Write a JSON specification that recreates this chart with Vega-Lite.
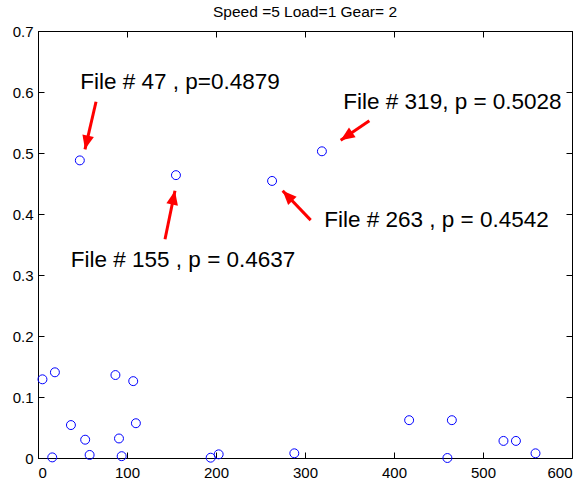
{
  "$schema": "https://vega.github.io/schema/vega-lite/v6.json",
  "width": 534,
  "height": 427,
  "autosize": {"type": "none"},
  "padding": {"left": 38, "top": 31, "right": 14, "bottom": 26},
  "background": "white",
  "config": {
    "view": {"stroke": "black", "strokeWidth": 1},
    "font": "Liberation Sans",
    "axis": {
      "domainColor": "black",
      "tickColor": "black",
      "labelColor": "black",
      "labelFont": "Liberation Sans",
      "labelFontSize": 15,
      "tickSize": -6,
      "grid": false,
      "title": null
    }
  },
  "title": {
    "text": "Speed =5 Load=1 Gear= 2",
    "font": "Liberation Sans",
    "fontSize": 15.5,
    "fontWeight": "normal",
    "color": "black",
    "offset": 4
  },
  "datasets": {
    "pts": [
      {"file": 5, "p": 0.129},
      {"file": 19, "p": 0.1405},
      {"file": 16, "p": 0.001},
      {"file": 37, "p": 0.054},
      {"file": 53, "p": 0.030},
      {"file": 58, "p": 0.005},
      {"file": 87, "p": 0.136},
      {"file": 107, "p": 0.126},
      {"file": 91, "p": 0.032},
      {"file": 94, "p": 0.003},
      {"file": 110, "p": 0.057},
      {"file": 194, "p": 0.0005},
      {"file": 203, "p": 0.006},
      {"file": 288, "p": 0.0077},
      {"file": 417, "p": 0.062},
      {"file": 465, "p": 0.062},
      {"file": 460, "p": 0.0},
      {"file": 523, "p": 0.028},
      {"file": 537, "p": 0.028},
      {"file": 559, "p": 0.0077},
      {"file": 47, "p": 0.4879},
      {"file": 155, "p": 0.4637},
      {"file": 263, "p": 0.4542},
      {"file": 319, "p": 0.5028}
    ],
    "ann": [
      {"label": "File # 47 , p=0.4879", "tx": 159.6, "ty": 0.6044, "ax": 65.2, "ay": 0.584, "bx": 52.8, "by": 0.506, "heading": 193},
      {"label": "File # 155 , p = 0.4637", "tx": 163, "ty": 0.3136, "ax": 142.7, "ay": 0.3585, "bx": 153.9, "by": 0.438, "heading": 11.6},
      {"label": "File # 263 , p = 0.4542", "tx": 447.8, "ty": 0.378, "ax": 306.4, "ay": 0.390, "bx": 274.9, "by": 0.438, "heading": 316},
      {"label": "File # 319, p = 0.5028", "tx": 465.7, "ty": 0.572, "ax": 372.3, "ay": 0.553, "bx": 340.1, "by": 0.521, "heading": 236}
    ]
  },
  "resolve": {"axis": {"x": "independent", "y": "independent"}},
  "layer": [
    {
      "data": {"name": "pts"},
      "mark": {"type": "point", "shape": "circle", "filled": false, "color": "#0000ff", "size": 80, "strokeWidth": 1, "opacity": 1},
      "encoding": {
        "x": {"field": "file", "type": "quantitative", "scale": {"domain": [0, 600], "nice": false, "zero": false},
              "axis": {"orient": "bottom", "values": [0, 100, 200, 300, 400, 500, 600], "labelPadding": 13}},
        "y": {"field": "p", "type": "quantitative", "scale": {"domain": [0, 0.7], "nice": false, "zero": false},
              "axis": {"orient": "left", "values": [0, 0.1, 0.2, 0.3, 0.4, 0.5, 0.6, 0.7], "format": ".1~f", "labelPadding": 11}}
      }
    },
    {
      "data": {"name": "ann"},
      "mark": {"type": "rule", "color": "#ff0000", "strokeWidth": 3},
      "encoding": {
        "x": {"field": "ax", "type": "quantitative", "scale": {"domain": [0, 600], "nice": false, "zero": false}, "axis": null},
        "y": {"field": "ay", "type": "quantitative", "scale": {"domain": [0, 0.7], "nice": false, "zero": false}, "axis": null},
        "x2": {"field": "bx"},
        "y2": {"field": "by"}
      }
    },
    {
      "data": {"name": "ann"},
      "mark": {"type": "point", "shape": "M0,0L-0.42,1L0.42,1Z", "filled": true, "color": "#ff0000", "size": 784, "opacity": 1, "strokeWidth": 0},
      "encoding": {
        "x": {"field": "bx", "type": "quantitative", "scale": {"domain": [0, 600], "nice": false, "zero": false}, "axis": null},
        "y": {"field": "by", "type": "quantitative", "scale": {"domain": [0, 0.7], "nice": false, "zero": false}, "axis": null},
        "angle": {"field": "heading", "type": "quantitative", "scale": null}
      }
    },
    {
      "data": {"name": "ann"},
      "mark": {"type": "text", "font": "Liberation Sans", "fontSize": 22.5, "align": "center", "baseline": "alphabetic", "color": "black"},
      "encoding": {
        "x": {"field": "tx", "type": "quantitative", "scale": {"domain": [0, 600], "nice": false, "zero": false},
              "axis": {"orient": "top", "values": [0, 100, 200, 300, 400, 500, 600], "labels": false}},
        "y": {"field": "ty", "type": "quantitative", "scale": {"domain": [0, 0.7], "nice": false, "zero": false},
              "axis": {"orient": "right", "values": [0, 0.1, 0.2, 0.3, 0.4, 0.5, 0.6, 0.7], "labels": false}},
        "text": {"field": "label", "type": "nominal"}
      }
    }
  ]
}
